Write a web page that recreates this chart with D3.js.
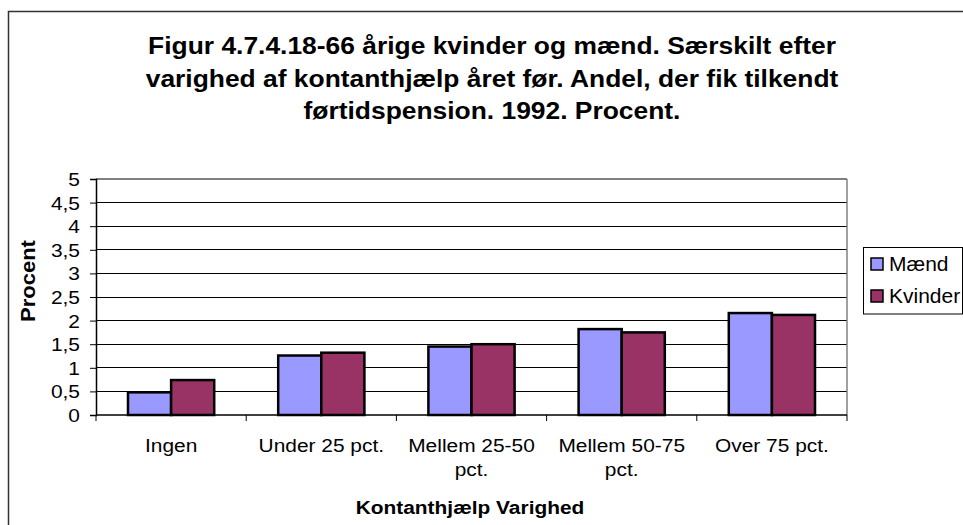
<!DOCTYPE html>
<html>
<head>
<meta charset="utf-8">
<script src="https://cdn.jsdelivr.net/npm/d3@7"></script>
<style>
  html, body { margin: 0; padding: 0; background: #fff; }
  svg { display: block; font-family: Arial, "Liberation Sans", sans-serif; }
</style>
</head>
<body>
<svg id="chart" width="963" height="525"></svg>
<script>
// Chart data
const categories = ["Ingen", "Under 25 pct.", "Mellem 25-50 pct.", "Mellem 50-75 pct.", "Over 75 pct."];
const categoryLines = [["Ingen"], ["Under 25 pct."], ["Mellem 25-50", "pct."], ["Mellem 50-75", "pct."], ["Over 75 pct."]];
const seriesNames = ["Mænd", "Kvinder"];
const maendValues = [0.48, 1.26, 1.45, 1.82, 2.16];
const kvinderValues = [0.74, 1.32, 1.50, 1.75, 2.12];
const yTicks = [0, 0.5, 1, 1.5, 2, 2.5, 3, 3.5, 4, 4.5, 5];
const titleLines = [
  "Figur 4.7.4.18-66 årige kvinder og mænd. Særskilt efter",
  "varighed af kontanthjælp året før. Andel, der fik tilkendt",
  "førtidspension. 1992. Procent."
];
const yTitle = "Procent";
const xTitle = "Kontanthjælp Varighed";

const colors = { "Mænd": "#9999FF", "Kvinder": "#993366" };
const seriesValues = { "Mænd": maendValues, "Kvinder": kvinderValues };

const svg = d3.select("#chart");
const plot = { left: 96, right: 847, top: 179, bottom: 415 };

// Outer chart frame
svg.append("rect")
  .attr("x", 8.5).attr("y", 11.5)
  .attr("width", 980).attr("height", 540)
  .attr("fill", "#fff").attr("stroke", "#333").attr("stroke-width", 1.5);

// Helper: horizontally stretched text anchored at (x, y)
function label(parent, x, y, text, opts) {
  const o = Object.assign({ size: 16, weight: "normal", anchor: "middle", sx: 1 }, opts || {});
  return parent.append("text")
    .attr("transform", `translate(${x},${y}) scale(${o.sx},1)`)
    .attr("text-anchor", o.anchor)
    .attr("font-size", o.size)
    .attr("font-weight", o.weight)
    .attr("fill", "#000")
    .text(text);
}

// Title
titleLines.forEach((t, i) => label(svg, 492, 54 + i * 32.5, t, { size: 24, weight: "bold", sx: 1.1 }));

// Scales
const x = d3.scaleBand().domain(categories).range([plot.left, plot.right]).paddingInner(0).paddingOuter(0);
const xs = d3.scaleBand().domain(seriesNames)
  .range([x.bandwidth() * 0.213, x.bandwidth() * 0.787]).padding(0);
const y = d3.scaleLinear().domain([0, 5]).range([plot.bottom, plot.top]);

// Gridlines
svg.append("g").selectAll("line")
  .data(yTicks.filter(d => d > 0))
  .join("line")
  .attr("x1", plot.left).attr("x2", plot.right)
  .attr("y1", d => y(d)).attr("y2", d => y(d))
  .attr("stroke", d => d === 5 ? "#808080" : "#000")
  .attr("stroke-width", d => d === 5 ? 1.5 : 1)
  .attr("shape-rendering", "crispEdges");

// Plot area right border
svg.append("line")
  .attr("x1", plot.right).attr("x2", plot.right)
  .attr("y1", plot.top).attr("y2", plot.bottom)
  .attr("stroke", "#808080").attr("stroke-width", 1.5);

// Bars
const groups = svg.append("g").selectAll("g")
  .data(categories)
  .join("g")
  .attr("transform", d => `translate(${x(d)},0)`);

groups.selectAll("rect")
  .data((d, i) => seriesNames.map(s => ({ s, v: seriesValues[s][i] })))
  .join("rect")
  .attr("x", d => xs(d.s))
  .attr("width", xs.bandwidth())
  .attr("y", d => y(d.v))
  .attr("height", d => y(0) - y(d.v))
  .attr("fill", d => colors[d.s])
  .attr("stroke", "#000")
  .attr("stroke-width", 2.5);

// Y axis
const fmt = v => d3.format("~g")(v).replace(".", ",");
const yAxis = d3.axisLeft(y).tickValues(yTicks).tickSize(6).tickFormat(fmt);
const ya = svg.append("g").attr("transform", `translate(${plot.left},0)`).call(yAxis);
ya.select(".domain").attr("stroke", "#000").attr("stroke-width", 1.5);
ya.selectAll(".tick line").attr("stroke", "#000");
ya.selectAll(".tick text").remove();
yTicks.forEach(v => label(svg, 80, y(v) + 7, fmt(v), { anchor: "end", size: 19, sx: 1.1 }));

// X axis (ticks at band boundaries)
const bounds = categories.map(c => x(c)).concat([plot.right]);
svg.append("line")
  .attr("x1", plot.left).attr("x2", plot.right)
  .attr("y1", plot.bottom).attr("y2", plot.bottom)
  .attr("stroke", "#000").attr("stroke-width", 1.5);
svg.append("g").selectAll("line")
  .data(bounds)
  .join("line")
  .attr("x1", d => d).attr("x2", d => d)
  .attr("y1", plot.bottom).attr("y2", plot.bottom + 6)
  .attr("stroke", "#000").attr("stroke-width", 1);

categories.forEach((c, i) => {
  categoryLines[i].forEach((ln, j) => {
    label(svg, x(c) + x.bandwidth() / 2, 452 + j * 24, ln, { size: 19, sx: 1.1 });
  });
});

// Axis titles
label(svg, 470, 514, xTitle, { size: 19, weight: "bold", sx: 1.1 });
svg.append("text")
  .attr("transform", `translate(35,281) rotate(-90) scale(1.1,1)`)
  .attr("text-anchor", "middle")
  .attr("font-size", 20)
  .attr("font-weight", "bold")
  .text(yTitle);

// Legend
const lg = svg.append("g");
lg.append("rect")
  .attr("x", 863.5).attr("y", 247.5).attr("width", 99).attr("height", 66.5)
  .attr("fill", "#fff").attr("stroke", "#000").attr("stroke-width", 1);
seriesNames.forEach((s, i) => {
  lg.append("rect")
    .attr("x", 871).attr("y", 258 + i * 32)
    .attr("width", 12).attr("height", 12)
    .attr("fill", colors[s]).attr("stroke", "#000").attr("stroke-width", 1.5);
  label(lg, 889, 271 + i * 32, s, { anchor: "start", size: 20, sx: 1.05 });
});
</script>
</body>
</html>
